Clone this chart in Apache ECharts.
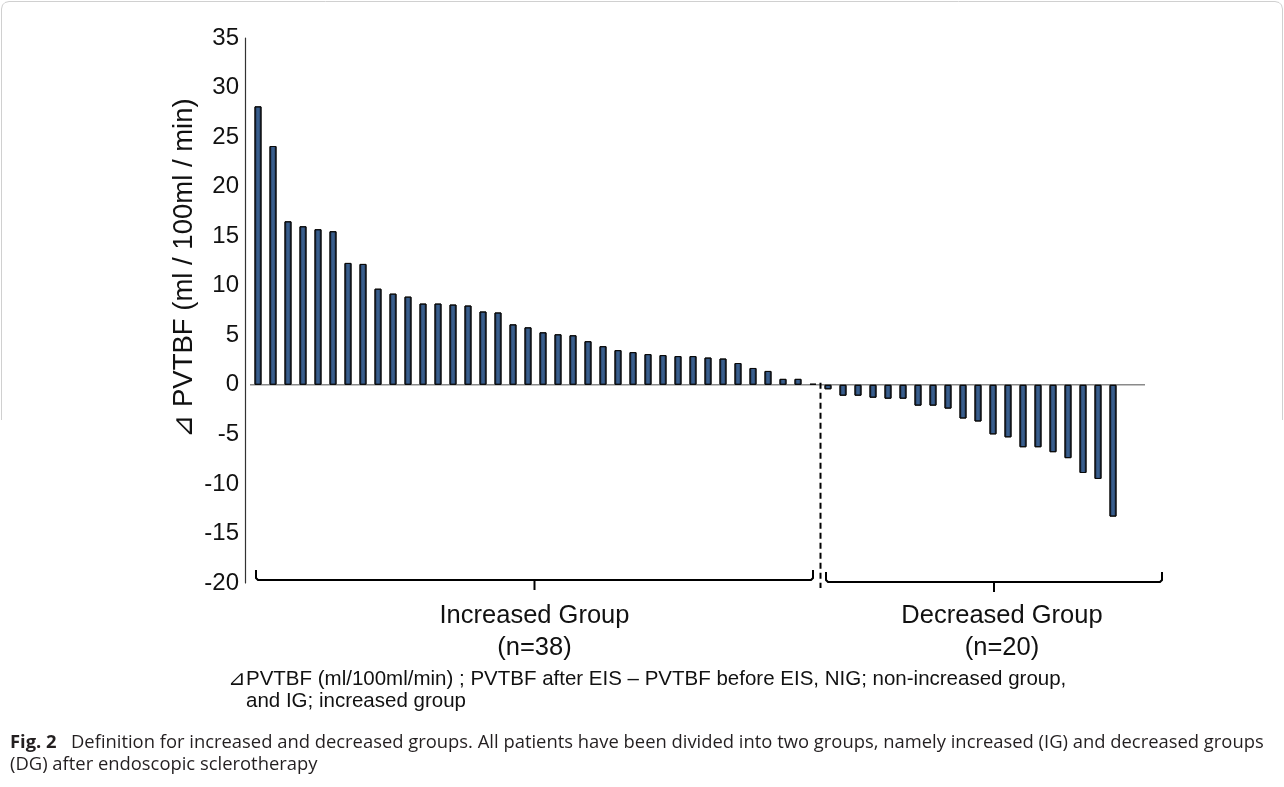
<!DOCTYPE html>
<html>
<head>
<meta charset="utf-8">
<script src="https://cdn.jsdelivr.net/npm/echarts@6/dist/echarts.min.js"></script>
<style>
html,body{margin:0;padding:0;background:#fff;}
#chart{width:1284px;height:787px;}
</style>
</head>
<body>
<div id="chart"></div>
<script>
// ---- data ----
var increasedGroup = [28.1, 24.1, 16.5, 16.0, 15.7, 15.5, 12.3, 12.2, 9.7, 9.2, 8.9, 8.2, 8.2, 8.1, 8.0, 7.4, 7.3, 6.1, 5.8, 5.3, 5.1, 5.0, 4.4, 3.9, 3.5, 3.3, 3.1, 3.0, 2.9, 2.9, 2.75, 2.65, 2.2, 1.7, 1.4, 0.6, 0.6, 0.1];
var decreasedGroup = [-0.45, -1.1, -1.1, -1.3, -1.4, -1.4, -2.1, -2.1, -2.4, -3.4, -3.7, -5.0, -5.3, -6.3, -6.3, -6.8, -7.4, -8.9, -9.5, -13.3];
var patients = increasedGroup.concat(decreasedGroup).map(function (v, i) { return 'P' + (i + 1); });
var values = increasedGroup.concat(decreasedGroup);
var yTicks = { min: -20, max: 35, interval: 5 };
var yName = '\u22BF PVTBF (ml / 100ml / min)';
var groupLabels = ['Increased Group\n(n=' + increasedGroup.length + ')', 'Decreased Group\n(n=' + decreasedGroup.length + ')'];
var footnote1 = '\u22BFPVTBF (ml/100ml/min) ; PVTBF after EIS \u2013 PVTBF before EIS, NIG; non-increased group,';
var footnote2 = 'and IG; increased group';
var captionTitle = 'Fig. 2';
var caption1 = 'Definition for increased and decreased groups. All patients have been divided into two groups, namely increased (IG) and decreased groups';
var caption2 = '(DG) after endoscopic sclerotherapy';

var chart = echarts.init(document.getElementById('chart'), null, { renderer: 'canvas' });
var FONT = '"Liberation Sans", Arial, sans-serif';
var CAPFONT = '"Open Sans", "Noto Sans", sans-serif';

var option = {
  animation: false,
  backgroundColor: '#fff',
  grid: { left: 250.5, right: 163.5, top: 38, bottom: 204, containLabel: false },
  xAxis: {
    type: 'category',
    data: patients,
    axisLine: { show: false },
    axisTick: { show: false },
    axisLabel: { show: false },
    splitLine: { show: false }
  },
  yAxis: {
    type: 'value',
    min: yTicks.min, max: yTicks.max, interval: yTicks.interval,
    offset: 5.5,
    axisLine: { show: true, lineStyle: { color: '#333', width: 1.2 } },
    axisTick: { show: false },
    splitLine: { show: false },
    axisLabel: { color: '#111', fontSize: 24, fontFamily: FONT, margin: 6 }
  },
  series: [{
    type: 'bar',
    data: values,
    barWidth: 7,
    itemStyle: {
      color: new echarts.graphic.LinearGradient(0, 0, 1, 0, [
        { offset: 0, color: '#1c3050' },
        { offset: 0.5, color: '#3d6596' },
        { offset: 1, color: '#1c3050' }
      ]),
      borderColor: '#0a0a0a',
      borderWidth: 1
    }
  }]
};
chart.setOption(option);

function px(i) { return chart.convertToPixel({ xAxisIndex: 0 }, i); }
function py(v) { return chart.convertToPixel({ yAxisIndex: 0 }, v); }

var y0 = py(0);
var nI = increasedGroup.length, nAll = values.length;
var igL = px(0) - 2, igR = px(nI - 1);
var dgL = px(nI) - 2, dgR = px(nAll - 1) + 49;
var divX = (px(nI - 1) + px(nI)) / 2;
var bY = 581;

function bracket(l, r, y) {
  var m = (l + r) / 2;
  return [
    { type: 'polyline', shape: { points: [[l, y - 10], [l, y - 2], [l + 2, y], [r - 2, y], [r, y - 2], [r, y - 10]] }, style: { stroke: '#000', lineWidth: 2, fill: null } },
    { type: 'line', shape: { x1: m, y1: y, x2: m, y2: y + 10 }, style: { stroke: '#000', lineWidth: 2 } }
  ];
}

var frame = { type: 'polyline', shape: { points: [[1.5, 420], [1.5, 9], [2.5, 5], [5, 2.5], [9, 1.5], [1275, 1.5], [1279, 2.5], [1281.5, 5], [1282.5, 9], [1282.5, 420]] }, style: { stroke: '#d0d0d0', lineWidth: 1, fill: null } };

var graphics = [
  frame,
  { type: 'line', shape: { x1: 250, y1: y0, x2: 1145, y2: y0 }, style: { stroke: '#8a8a8a', lineWidth: 1.5 } },
  { type: 'line', shape: { x1: divX, y1: y0 - 2, x2: divX, y2: 588 }, style: { stroke: '#000', lineWidth: 2, lineDash: [6, 4] } }
].concat(bracket(igL, igR, bY - 1), bracket(dgL, dgR, bY + 1), [
  { type: 'text', x: (igL + igR) / 2, y: 632, style: { text: groupLabels[0], font: '25.5px ' + FONT, fill: '#111', textAlign: 'center', textVerticalAlign: 'middle', lineHeight: 32 } },
  { type: 'text', x: 1002, y: 632, style: { text: groupLabels[1], font: '25.5px ' + FONT, fill: '#111', textAlign: 'center', textVerticalAlign: 'middle', lineHeight: 32 } },
  { type: 'text', x: 184, y: 268, rotation: Math.PI / 2, style: { text: yName, font: '27.5px ' + FONT, fill: '#111', textAlign: 'center', textVerticalAlign: 'middle' } },
  { type: 'text', x: 228, y: 679, style: { text: footnote1, font: '20.5px ' + FONT, fill: '#111', textAlign: 'left', textVerticalAlign: 'middle' } },
  { type: 'text', x: 246, y: 701, style: { text: footnote2, font: '20.5px ' + FONT, fill: '#111', textAlign: 'left', textVerticalAlign: 'middle' } },
  { type: 'text', x: 10, y: 743, style: { rich: { b: { fontFamily: CAPFONT, fontWeight: 'bold', fontSize: 18.4, fill: '#231f20' }, n: { fontFamily: CAPFONT, fontSize: 18.4, fill: '#231f20' } }, text: '{b|' + captionTitle + '}{n|   ' + caption1 + '}', textVerticalAlign: 'middle' } },
  { type: 'text', x: 10, y: 765, style: { text: caption2, font: '18.4px ' + CAPFONT, fill: '#231f20', textVerticalAlign: 'middle' } }
]);

chart.setOption({ graphic: graphics });
</script>
</body>
</html>
